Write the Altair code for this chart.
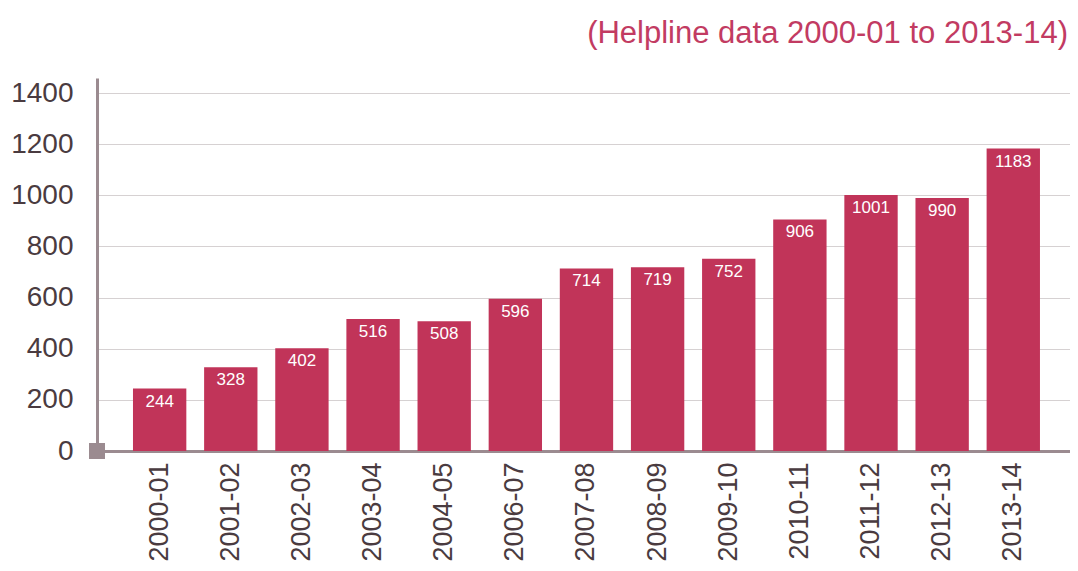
import altair as alt
import pandas as pd

years = ["2000-01", "2001-02", "2002-03", "2003-04", "2004-05", "2006-07", "2007-08",
         "2008-09", "2009-10", "2010-11", "2011-12", "2012-13", "2013-14"]
calls = [244, 328, 402, 516, 508, 596, 714, 719, 752, 906, 1001, 990, 1183]
y_ticks = [0, 200, 400, 600, 800, 1000, 1200, 1400]
title_text = "(Helpline data 2000-01 to 2013-14)"

df = pd.DataFrame({"year": years, "calls": calls})

BAR = "#c13459"
AXIS = "#9b8b90"
LABEL = "#4a3b40"
FONT = "Liberation Sans"

x = alt.X("year:N", sort=years, title=None,
          scale=alt.Scale(paddingInner=0.25, paddingOuter=0.464, align=0.545),
          axis=alt.Axis(labelAngle=-90, labelAlign="right", labelBaseline="middle",
                        labelPadding=11, ticks=False, labelFontSize=27, labelColor=LABEL,
                        labelFont=FONT, labelFontWeight=300,
                        domainColor=AXIS, domainWidth=3, grid=False))
y = alt.Y("calls:Q", title=None,
          scale=alt.Scale(domain=[0, 1459], nice=False),
          axis=alt.Axis(values=y_ticks, format="d", ticks=False, labelFontSize=28,
                        labelColor=LABEL, labelFont=FONT, labelFontWeight=300,
                        labelPadding=24, domainColor=AXIS, domainWidth=3,
                        grid=True, gridColor="#d6d1d2", gridWidth=1))

bars = alt.Chart(df).mark_bar(color=BAR).encode(x=x, y=y)
texts = alt.Chart(df).mark_text(color="white", baseline="top", dy=5, fontSize=17,
                                font=FONT).encode(x=alt.X("year:N", sort=years),
                                                   y="calls:Q", text="calls:Q")
corner = alt.Chart(pd.DataFrame({"v": [0]})).mark_square(
    color=AXIS, size=256, opacity=1, filled=True).encode(x=alt.value(0), y="v:Q")

chart = alt.layer(bars, texts, corner).properties(
    width=973, height=373,
    padding={"left": 89, "top": 70, "right": 0, "bottom": 112},
    autosize=alt.AutoSizeParams(type="none"),
    title=alt.TitleParams(title_text, anchor="end", fontSize=31, color="#c23b62",
                          font=FONT, fontWeight=300, offset=5, dx=-2, dy=8,
                          baseline="bottom"),
).configure_view(stroke=None)

chart.save("out.html", embed_options={"renderer": "svg", "actions": False})
